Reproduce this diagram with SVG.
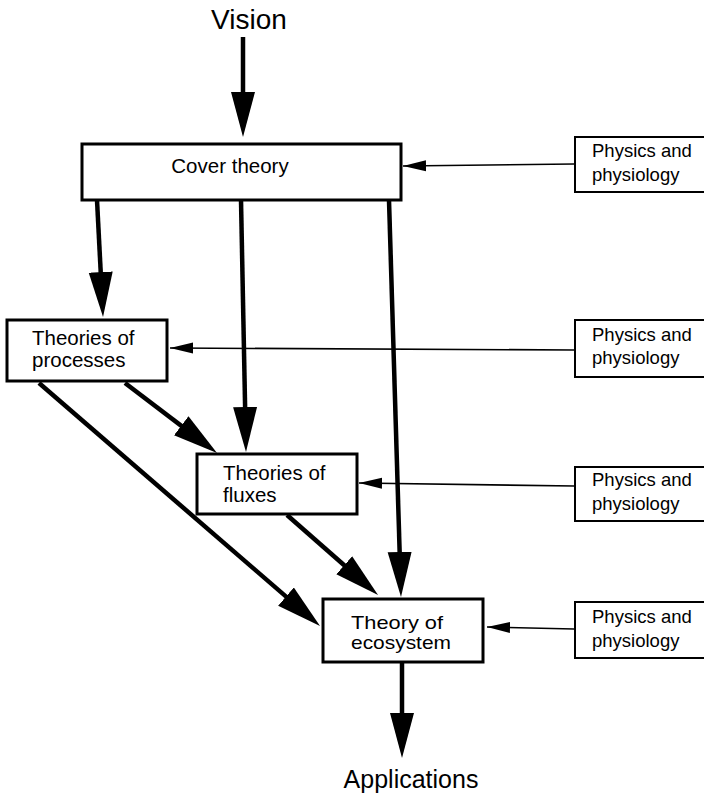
<svg xmlns="http://www.w3.org/2000/svg" width="704" height="795" viewBox="0 0 704 795">
<style>
text{font-family:"Liberation Sans",Arial,sans-serif;fill:#000}
.box{fill:#fff;stroke:#000;stroke-width:3}
.pbox{fill:#fff;stroke:#000;stroke-width:2}
.big{fill:none;stroke:#000;stroke-width:4.5}
.thin{fill:none;stroke:#000;stroke-width:1.6}
.t{font-size:20.5px}
.e{font-size:19px}
.p{font-size:18.5px}
</style>
<defs>
<marker id="bh" markerUnits="userSpaceOnUse" markerWidth="46" markerHeight="26" refX="25" refY="12" orient="auto" viewBox="0 0 46 24">
<path d="M0,0 L45,12 L0,24 z" fill="#000"/>
</marker>
<marker id="sh" markerUnits="userSpaceOnUse" markerWidth="24" markerHeight="12" refX="23" refY="5.5" orient="auto" viewBox="0 0 24 11">
<path d="M0,0 L23,5.5 L0,11 z" fill="#000"/>
</marker>
</defs>
<rect width="704" height="795" fill="#fff"/>
<g id="vision"><text x="249" y="29" font-size="28" text-anchor="middle">Vision</text></g>
<g id="applications"><text x="411" y="788" font-size="25" text-anchor="middle">Applications</text></g>
<g id="connectors">
<line class="big" x1="243" y1="37" x2="243" y2="117" marker-end="url(#bh)"/>
<line class="big" x1="97" y1="200" x2="102" y2="297" marker-end="url(#bh)"/>
<line class="big" x1="241" y1="200" x2="245.6" y2="432" marker-end="url(#bh)"/>
<line class="big" x1="389" y1="200" x2="400.4" y2="577" marker-end="url(#bh)"/>
<line class="big" x1="125" y1="383" x2="201.1" y2="440.9" marker-end="url(#bh)"/>
<line class="big" x1="39" y1="383" x2="304.9" y2="612.9" marker-end="url(#bh)"/>
<line class="big" x1="287" y1="515" x2="363" y2="581.8" marker-end="url(#bh)"/>
<line class="big" x1="402" y1="662" x2="402" y2="738" marker-end="url(#bh)"/>
<line class="thin" x1="574" y1="164" x2="403" y2="166" marker-end="url(#sh)"/>
<line class="thin" x1="574" y1="350" x2="170" y2="348" marker-end="url(#sh)"/>
<line class="thin" x1="574" y1="486" x2="359" y2="483" marker-end="url(#sh)"/>
<line class="thin" x1="574" y1="629" x2="487" y2="627" marker-end="url(#sh)"/>
</g>
<g id="cover">
<rect class="box" x="82" y="144" width="319" height="56"/>
<text class="t" x="230" y="173" text-anchor="middle">Cover theory</text>
</g>
<g id="processes">
<rect class="box" x="7" y="320" width="160" height="61"/>
<text class="t" x="32" y="345">Theories of</text>
<text class="t" x="32" y="367">processes</text>
</g>
<g id="fluxes">
<rect class="box" x="197" y="454" width="160" height="60"/>
<text class="t" x="223" y="480">Theories of</text>
<text class="t" x="223" y="502">fluxes</text>
</g>
<g id="ecosystem">
<rect class="box" x="323" y="599" width="160" height="63"/>
<text class="e" x="351" y="629" textLength="92" lengthAdjust="spacingAndGlyphs">Theory of</text>
<text class="e" x="351" y="649" textLength="100" lengthAdjust="spacingAndGlyphs">ecosystem</text>
</g>
<g id="phys1">
<rect class="pbox" x="575" y="137" width="130" height="55"/>
<text class="p" x="592" y="157">Physics and</text>
<text class="p" x="592" y="181">physiology</text>
</g>
<g id="phys2">
<rect class="pbox" x="575" y="320" width="130" height="57"/>
<text class="p" x="592" y="341">Physics and</text>
<text class="p" x="592" y="364">physiology</text>
</g>
<g id="phys3">
<rect class="pbox" x="575" y="467" width="130" height="54"/>
<text class="p" x="592" y="486">Physics and</text>
<text class="p" x="592" y="510">physiology</text>
</g>
<g id="phys4">
<rect class="pbox" x="575" y="602" width="130" height="56"/>
<text class="p" x="592" y="623">Physics and</text>
<text class="p" x="592" y="647">physiology</text>
</g>
</svg>
